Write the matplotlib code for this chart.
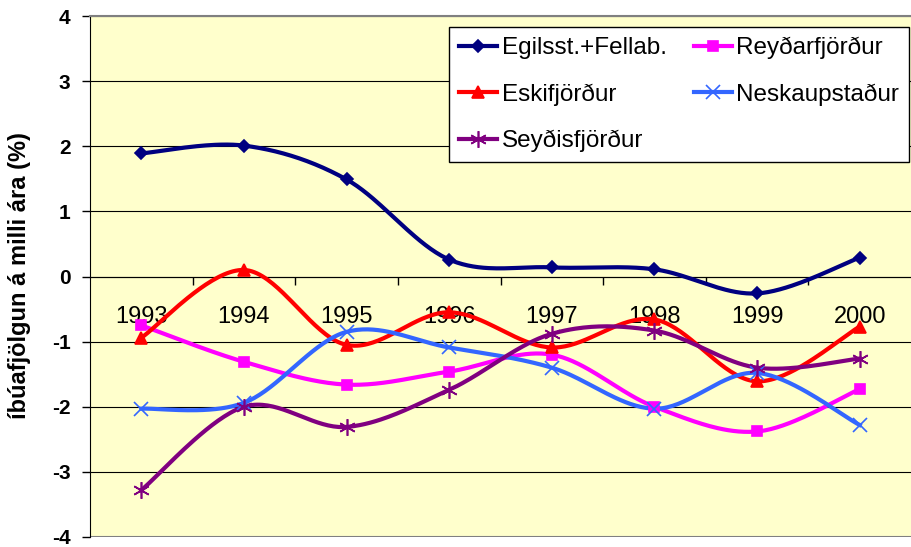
import matplotlib
matplotlib.use("Agg")
from matplotlib import pyplot as plt
import numpy as np

plt.rcParams['font.family'] = ['Liberation Sans', 'DejaVu Sans']
plt.rcParams['axes.unicode_minus'] = False

years = ['1993', '1994', '1995', '1996', '1997', '1998', '1999', '2000']
egilsst = [1.89, 2.01, 1.49, 0.26, 0.14, 0.11, -0.26, 0.29]
eskifj = [-0.94, 0.10, -1.05, -0.55, -1.09, -0.66, -1.61, -0.77]
reydarfj = [-0.75, -1.31, -1.66, -1.46, -1.20, -2.00, -2.38, -1.73]
neskaup = [-2.03, -1.94, -0.85, -1.09, -1.40, -2.03, -1.48, -2.28]
seydisfj = [-3.28, -2.00, -2.31, -1.74, -0.88, -0.83, -1.40, -1.26]


def smooth(xs, ys, n=40):
    # bezier curve through the points, like excel's smoothed line
    p = np.column_stack([xs, ys]).astype(float)
    out = []
    for i in range(len(p) - 1):
        p0 = p[max(i - 1, 0)]
        p1 = p[i]
        p2 = p[i + 1]
        p3 = p[min(i + 2, len(p) - 1)]
        c1 = p1 + (p2 - p0) / 6
        c2 = p2 - (p3 - p1) / 6
        t = np.linspace(0, 1, n)[:, None]
        seg = (1 - t)**3 * p1 + 3 * (1 - t)**2 * t * c1 + 3 * (1 - t) * t**2 * c2 + t**3 * p2
        out.append(seg if i == 0 else seg[1:])
    out = np.vstack(out)
    return out[:, 0], out[:, 1]


fig = plt.figure(figsize=(9.11, 5.47), dpi=100)
ax = fig.add_axes([90/911, 1 - 537/547, 821/911, 521/547])
ax.set_facecolor('#FFFFCC')

x = np.arange(len(years))
series = [
    ('Egilsst.+Fellab.', egilsst, '#000080', 'D', 6),
    ('Eskifjörður', eskifj, '#FF0000', '^', 8),
    ('Seyðisfjörður', seydisfj, '#800080', (6, 2, 0), 12),
    ('Reyðarfjörður', reydarfj, '#FF00FF', 's', 7),
    ('Neskaupstaður', neskaup, '#3366FF', 'x', 10),
]
order = ['Egilsst.+Fellab.', 'Reyðarfjörður', 'Eskifjörður', 'Neskaupstaður', 'Seyðisfjörður']
handles = {}
for name, vals, col, mk, ms in sorted(series, key=lambda s: order.index(s[0])):
    sx, sy = smooth(x, vals)
    ax.plot(sx, sy, color=col, lw=3, zorder=3)
    ax.plot(x, vals, ls='none', marker=mk, ms=ms, color=col, mec=col, mew=1.2, zorder=4)
    h, = ax.plot([], [], color=col, lw=3, marker=mk, ms=ms, mec=col, mew=1.2)
    handles[name] = h

ax.set_xlim(-0.5, 7.5)
ax.set_ylim(-4, 4)
ax.set_yticks(range(-4, 5))
ax.yaxis.grid(True, color='black', lw=0.8)
ax.set_axisbelow(True)
ax.tick_params(axis='y', direction='out', length=6, width=1, pad=8,
               labelsize=15)
for lab in ax.get_yticklabels():
    lab.set_fontweight('bold')

ax.spines['bottom'].set_position(('data', 0))
ax.spines['top'].set_color('#808080')
ax.spines['top'].set_linewidth(1.5)
ax.spines['right'].set_visible(False)
ax.axhline(-4, color='#808080', lw=1.5, zorder=2)

ax.set_xticks(x)
ax.set_xticklabels(years)
ax.set_xticks(np.arange(0.5, 7), minor=True)
ax.tick_params(axis='x', which='major', length=0, pad=21, labelsize=17)
ax.tick_params(axis='x', which='minor', direction='out', length=6, width=1)

fig.text(20/911, 1 - 276/547, 'íbúafjölgun á milli ára (%)', rotation=90,
         ha='center', va='center', fontsize=17, fontweight='bold')

names = ['Egilsst.+Fellab.', 'Eskifjörður', 'Seyðisfjörður', 'Reyðarfjörður', 'Neskaupstaður']
leg = ax.legend([handles[n] for n in names], names,
                ncol=2, loc='upper right', bbox_to_anchor=(909/911, 1 - 27/547),
                bbox_transform=fig.transFigure, borderaxespad=0, fontsize=17.5,
                fancybox=False, framealpha=1, edgecolor='black',
                handlelength=1.56, handletextpad=0.2, columnspacing=1.1,
                labelspacing=1.0, borderpad=0.4)
leg.get_frame().set_linewidth(1)
leg.set_zorder(5)

fig.savefig('out.png', dpi=100)
